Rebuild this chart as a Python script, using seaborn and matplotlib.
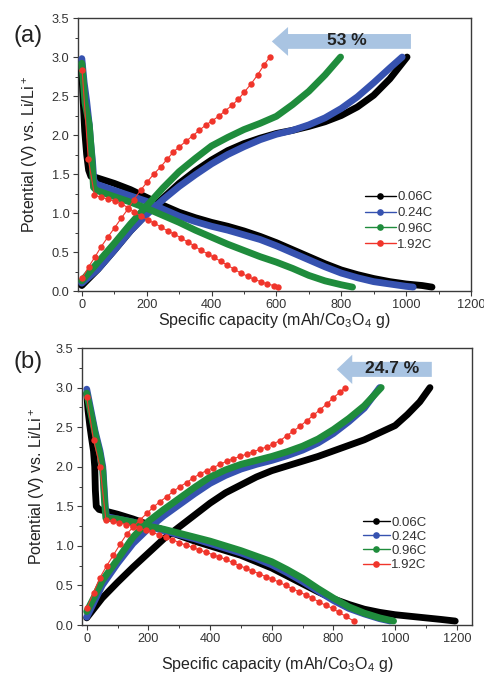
import matplotlib
matplotlib.use("Agg")
import matplotlib.pyplot as plt
from matplotlib.patches import FancyArrow
from matplotlib.lines import Line2D
from matplotlib.ticker import MultipleLocator
import seaborn as sns

# ---------------------------------------------------------------- data
RATES = ["0.06C", "0.24C", "0.96C", "1.92C"]
COLORS = ["#000000", "#3652b0", "#1f8c3c", "#f0352b"]
X_TICKS = [0, 200, 400, 600, 800, 1000, 1200]
Y_TICKS = [0.0, 0.5, 1.0, 1.5, 2.0, 2.5, 3.0, 3.5]

# ---- panel (a): capacity (mAh/g) and potential (V) per rate
A_Q_006_DIS = [0, 4, 9, 15, 21, 28, 40, 100, 150, 200, 250, 300, 350, 400, 450, 500,
               550, 600, 650, 700, 750, 800, 850, 900, 950, 1000, 1050, 1080]
A_V_006_DIS = [2.82, 2.45, 2.05, 1.75, 1.55, 1.47, 1.46, 1.38, 1.30, 1.20, 1.10, 1.01,
               0.94, 0.88, 0.83, 0.77, 0.70, 0.62, 0.53, 0.44, 0.35, 0.27, 0.21, 0.16,
               0.12, 0.09, 0.07, 0.05]
A_Q_006_CHG = [0, 50, 100, 150, 200, 250, 300, 350, 400, 450, 500, 550, 600, 650, 700,
               750, 800, 850, 900, 950, 1003]
A_V_006_CHG = [0.07, 0.28, 0.52, 0.77, 0.99, 1.19, 1.38, 1.54, 1.68, 1.80, 1.89, 1.96,
               2.02, 2.06, 2.11, 2.17, 2.25, 2.36, 2.51, 2.72, 3.00]

A_Q_024_DIS = [0, 7, 15, 23, 28, 33, 37, 45, 100, 150, 200, 250, 300, 350, 400, 450,
               500, 550, 600, 650, 700, 750, 800, 850, 900, 950, 1000, 1022]
A_V_024_DIS = [2.98, 2.68, 2.43, 2.13, 1.87, 1.66, 1.42, 1.37, 1.29, 1.22, 1.15, 1.05,
               0.96, 0.89, 0.83, 0.78, 0.72, 0.66, 0.58, 0.49, 0.40, 0.31, 0.23, 0.17,
               0.12, 0.09, 0.06, 0.05]
A_Q_024_CHG = [0, 50, 100, 150, 200, 250, 300, 350, 400, 450, 500, 550, 600, 650, 700,
               750, 800, 850, 900, 950, 988]
A_V_024_CHG = [0.10, 0.28, 0.52, 0.77, 0.98, 1.17, 1.34, 1.49, 1.63, 1.75, 1.85, 1.94,
               2.01, 2.06, 2.13, 2.22, 2.34, 2.49, 2.67, 2.86, 3.00]

A_Q_096_DIS = [0, 10, 23, 30, 36, 45, 100, 150, 200, 250, 300, 350, 400, 450, 500, 550,
               600, 650, 700, 750, 800, 835]
A_V_096_DIS = [2.92, 2.41, 2.13, 1.76, 1.33, 1.29, 1.21, 1.14, 1.06, 0.97, 0.88, 0.78,
               0.69, 0.60, 0.52, 0.44, 0.37, 0.29, 0.20, 0.13, 0.08, 0.05]
A_Q_096_CHG = [0, 50, 100, 150, 200, 250, 300, 350, 400, 450, 500, 550, 600, 650, 700,
               750, 798]
A_V_096_CHG = [0.13, 0.37, 0.61, 0.86, 1.09, 1.32, 1.53, 1.70, 1.86, 1.97, 2.07, 2.15,
               2.24, 2.39, 2.56, 2.77, 3.00]

A_Q_192_DIS = [1, 20, 39, 60, 80, 101, 121, 142, 162, 183, 203, 224, 244, 265, 285, 306,
               326, 347, 367, 388, 408, 429, 449, 470, 490, 511, 531, 552, 572, 592, 605]
A_V_192_DIS = [2.83, 1.69, 1.23, 1.20, 1.18, 1.15, 1.12, 1.07, 1.01, 0.96, 0.91, 0.87,
               0.82, 0.77, 0.73, 0.68, 0.63, 0.58, 0.52, 0.48, 0.43, 0.38, 0.33, 0.28,
               0.23, 0.19, 0.15, 0.12, 0.09, 0.07, 0.05]
A_Q_192_CHG = [2, 21, 41, 60, 80, 101, 121, 142, 160, 181, 202, 222, 243, 263, 282, 301,
               321, 342, 362, 383, 401, 422, 442, 463, 483, 501, 521, 542, 562, 580]
A_V_192_CHG = [0.17, 0.31, 0.44, 0.57, 0.69, 0.81, 0.93, 1.05, 1.17, 1.29, 1.40, 1.50,
               1.59, 1.69, 1.78, 1.85, 1.92, 1.99, 2.06, 2.13, 2.18, 2.24, 2.31, 2.38,
               2.46, 2.55, 2.65, 2.77, 2.90, 3.00]

# ---- panel (b)
B_Q_006_DIS = [0, 4, 10, 15, 22, 26, 28, 31, 40, 60, 100, 150, 200, 250, 300, 350, 400,
               450, 500, 550, 600, 650, 700, 750, 800, 850, 900, 950, 1000, 1050, 1100,
               1150, 1195]
B_V_006_DIS = [2.93, 2.72, 2.52, 2.38, 2.20, 2.00, 1.70, 1.50, 1.46, 1.44, 1.40, 1.34,
               1.27, 1.20, 1.13, 1.06, 1.00, 0.94, 0.88, 0.80, 0.72, 0.62, 0.52, 0.42,
               0.33, 0.26, 0.20, 0.16, 0.13, 0.11, 0.09, 0.07, 0.05]
B_Q_006_CHG = [0, 50, 100, 150, 200, 250, 300, 350, 400, 450, 500, 550, 600, 650, 700,
               750, 800, 850, 900, 950, 1000, 1040, 1080, 1113]
B_V_006_CHG = [0.09, 0.34, 0.54, 0.73, 0.91, 1.09, 1.24, 1.39, 1.54, 1.67, 1.77, 1.87,
               1.95, 2.01, 2.07, 2.13, 2.20, 2.27, 2.34, 2.43, 2.52, 2.66, 2.82, 3.00]

B_Q_024_DIS = [0, 27, 43, 52, 57, 60, 64, 100, 150, 200, 250, 300, 350, 400, 450, 500,
               550, 600, 650, 700, 750, 800, 850, 900, 950, 985]
B_V_024_DIS = [2.98, 2.45, 2.20, 2.00, 1.70, 1.50, 1.37, 1.34, 1.30, 1.25, 1.19, 1.14,
               1.09, 1.03, 0.97, 0.91, 0.84, 0.76, 0.66, 0.55, 0.43, 0.31, 0.21, 0.14,
               0.08, 0.05]
B_Q_024_CHG = [0, 25, 50, 100, 150, 200, 250, 300, 350, 400, 450, 500, 550, 600, 650,
               700, 750, 800, 850, 900, 950]
B_V_024_CHG = [0.10, 0.30, 0.50, 0.78, 1.03, 1.22, 1.38, 1.52, 1.66, 1.79, 1.89, 1.97,
               2.03, 2.08, 2.14, 2.21, 2.30, 2.42, 2.57, 2.74, 3.00]

B_Q_096_DIS = [0, 27, 43, 52, 57, 62, 100, 150, 200, 250, 300, 350, 400, 450, 500, 550,
               600, 650, 700, 750, 800, 850, 900, 950, 995]
B_V_096_DIS = [2.93, 2.42, 2.16, 1.95, 1.60, 1.35, 1.34, 1.30, 1.25, 1.21, 1.16, 1.11,
               1.06, 1.00, 0.94, 0.87, 0.80, 0.70, 0.59, 0.46, 0.34, 0.23, 0.15, 0.09,
               0.05]
B_Q_096_CHG = [0, 25, 50, 100, 150, 200, 250, 300, 350, 400, 450, 500, 550, 600, 650,
               700, 750, 800, 850, 900, 955]
B_V_096_CHG = [0.17, 0.36, 0.56, 0.83, 1.11, 1.31, 1.46, 1.60, 1.74, 1.87, 1.96, 2.03,
               2.08, 2.13, 2.19, 2.26, 2.35, 2.47, 2.61, 2.77, 3.00]

B_Q_192_DIS = [0, 22, 43, 62, 84, 105, 127, 149, 170, 192, 213, 235, 257, 278, 300, 321,
               343, 365, 386, 408, 429, 451, 473, 494, 516, 537, 559, 581, 602, 624, 645,
               667, 689, 710, 732, 753, 775, 797, 818, 840, 866]
B_V_192_DIS = [2.88, 2.34, 2.00, 1.33, 1.31, 1.29, 1.27, 1.25, 1.22, 1.20, 1.17, 1.14,
               1.11, 1.08, 1.04, 1.01, 0.98, 0.95, 0.92, 0.89, 0.86, 0.83, 0.79, 0.75,
               0.72, 0.68, 0.65, 0.61, 0.58, 0.54, 0.50, 0.46, 0.42, 0.38, 0.34, 0.29,
               0.25, 0.21, 0.16, 0.11, 0.05]
B_Q_192_CHG = [0, 22, 43, 65, 86, 108, 130, 151, 173, 195, 216, 238, 259, 281, 303, 324,
               346, 367, 389, 411, 432, 454, 475, 497, 519, 540, 562, 583, 605, 627, 648,
               670, 691, 713, 735, 756, 778, 799, 821, 838]
B_V_192_CHG = [0.21, 0.41, 0.60, 0.75, 0.88, 1.02, 1.15, 1.24, 1.33, 1.41, 1.49, 1.56,
               1.62, 1.69, 1.75, 1.80, 1.86, 1.91, 1.95, 1.99, 2.03, 2.07, 2.10, 2.13,
               2.16, 2.19, 2.22, 2.25, 2.29, 2.33, 2.39, 2.45, 2.51, 2.58, 2.65, 2.72,
               2.79, 2.87, 2.94, 3.00]

# capacity retention annotations
A_RETENTION = "53 %"
B_RETENTION = "24.7 %"

PANEL_A = [
    (A_Q_006_DIS, A_V_006_DIS, A_Q_006_CHG, A_V_006_CHG),
    (A_Q_024_DIS, A_V_024_DIS, A_Q_024_CHG, A_V_024_CHG),
    (A_Q_096_DIS, A_V_096_DIS, A_Q_096_CHG, A_V_096_CHG),
    (A_Q_192_DIS, A_V_192_DIS, A_Q_192_CHG, A_V_192_CHG),
]
PANEL_B = [
    (B_Q_006_DIS, B_V_006_DIS, B_Q_006_CHG, B_V_006_CHG),
    (B_Q_024_DIS, B_V_024_DIS, B_Q_024_CHG, B_V_024_CHG),
    (B_Q_096_DIS, B_V_096_DIS, B_Q_096_CHG, B_V_096_CHG),
    (B_Q_192_DIS, B_V_192_DIS, B_Q_192_CHG, B_V_192_CHG),
]

# ---------------------------------------------------------------- style
sns.set_theme(style="ticks")
plt.rcParams["font.family"] = ["Liberation Sans", "DejaVu Sans"]
plt.rcParams["mathtext.default"] = "regular"
TXT = "#222222"
SPINE = "#3a3a3a"
ARROW = "#a9c4e2"


def draw_curves(ax, curves):
    for i, (qd, vd, qc, vc) in enumerate(curves):
        c = COLORS[i]
        if i < 3:
            # densely sampled runs: markers merge into a solid band
            for q, v in ((qd, vd), (qc, vc)):
                sns.lineplot(x=q, y=v, ax=ax, color=c, lw=4.9, sort=False,
                             estimator=None, solid_capstyle="round",
                             solid_joinstyle="round", zorder=3 + i)
        else:
            for q, v in ((qd, vd), (qc, vc)):
                sns.lineplot(x=q, y=v, ax=ax, color=c, lw=0.8, sort=False,
                             estimator=None, marker="o", markersize=4.6,
                             markeredgewidth=0, zorder=7)


def style_axes(ax, xmax, xmin):
    ax.set_xlim(xmin, xmax)
    ax.set_ylim(0, 3.5)
    ax.set_xticks(X_TICKS)
    ax.set_yticks(Y_TICKS)
    ax.set_yticklabels([f"{t:.1f}" for t in Y_TICKS])
    ax.xaxis.set_minor_locator(MultipleLocator(100))
    ax.yaxis.set_minor_locator(MultipleLocator(0.25))
    ax.tick_params(which="major", direction="out", length=3.5, width=0.8,
                   labelsize=9.2, colors=SPINE, labelcolor="#333333", pad=2.5)
    ax.tick_params(which="minor", direction="out", length=2, width=0.7, colors=SPINE)
    for s in ax.spines.values():
        s.set_color(SPINE)
        s.set_linewidth(1.0)
        s.set_visible(True)
    ax.set_xlabel("Specific capacity (mAh/Co$_3$O$_4$ g)", fontsize=11.5, color=TXT)
    ax.set_ylabel("Potential (V) vs. Li/Li$^+$", fontsize=11.5, color=TXT)


def add_legend(ax, anchor, spacing, hlen):
    handles = [Line2D([], [], color=c, lw=1.0, marker="o", markersize=4.8,
                      markeredgewidth=0) for c in COLORS]
    ax.legend(handles, RATES, loc="upper left", bbox_to_anchor=anchor,
              frameon=False, fontsize=9.5, handlelength=hlen, handletextpad=0.12,
              labelspacing=spacing, borderpad=0, borderaxespad=0,
              labelcolor="#333333")


def add_arrow(ax, tail, tip, yc, label, label_x):
    ax.add_patch(FancyArrow(tail, yc, tip - tail, 0, width=0.19, head_width=0.37,
                            head_length=50, length_includes_head=True,
                            color=ARROW, lw=0, zorder=2))
    ax.text(label_x, yc + 0.01, label, ha="center", va="center", fontsize=12.5,
            fontweight="bold", color=TXT, zorder=8)


fig = plt.figure(figsize=(4.84, 6.73), dpi=100)
ax_a = fig.add_axes([0.161, 0.5676, 0.812, 0.4056])
ax_b = fig.add_axes([0.169, 0.0713, 0.806, 0.4116])

draw_curves(ax_a, PANEL_A)
draw_curves(ax_b, PANEL_B)

style_axes(ax_a, 1200, -12)
style_axes(ax_b, 1249, -16)

ax_a.xaxis.set_label_coords(0.5, -0.075)
ax_a.yaxis.set_label_coords(-0.097, 0.5)
ax_b.xaxis.set_label_coords(0.5, -0.11)
ax_b.yaxis.set_label_coords(-0.088, 0.5)

add_legend(ax_a, (0.730, 0.366), 0.27, 2.35)
add_legend(ax_b, (0.720, 0.391), 0.14, 2.05)

add_arrow(ax_a, 1015, 586, 3.20, A_RETENTION, 818)
add_arrow(ax_b, 1119, 811, 3.23, B_RETENTION, 990)

fig.text(28 / 484, 1 - 36 / 673, "(a)", fontsize=17, ha="center", va="center",
         color=TXT)
fig.text(28 / 484, 1 - 362 / 673, "(b)", fontsize=17, ha="center", va="center",
         color=TXT)

fig.savefig("out.png", dpi=100, facecolor="white")
